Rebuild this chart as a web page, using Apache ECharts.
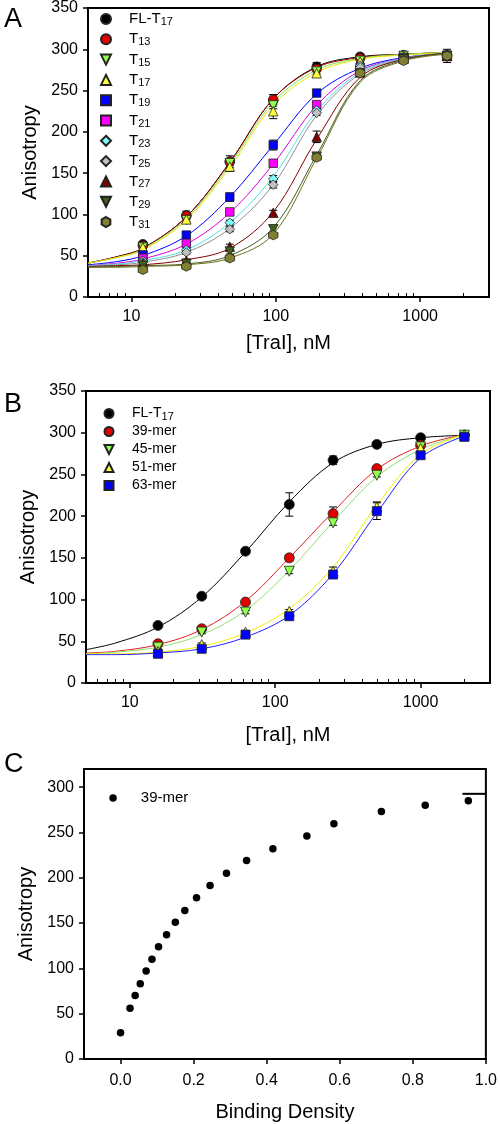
<!DOCTYPE html>
<html><head><meta charset="utf-8">
<script src="https://cdn.jsdelivr.net/npm/echarts@6/dist/echarts.min.js"></script>
<style>html,body{margin:0;padding:0;background:#fff}#c{width:500px;height:1124px}</style>
</head><body><div id="c"></div>
<script>
const FONT = '"Liberation Sans", Arial, Helvetica, sans-serif';

// ---------- Panel A data ----------
const concA = [12, 24, 48, 96, 192, 384, 768, 1536];
const fitXA = [5, 8, 12, 24, 48, 96, 192, 384, 768, 1536];
const namesA = ['FL-T17','T13','T15','T17','T19','T21','T23','T25','T27','T29','T31'];
const aFL  = [64, 99, 164, 238, 279, 291, 293, 293];
const aT13 = [62, 98, 164, 239, 276, 289, 292, 292];
const aT15 = [60, 93, 162, 232, 273, 286, 292, 292];
const aT17 = [60, 94, 158, 225, 271, 285, 291, 292];
const aT19 = [51, 75, 121, 184, 247, 275, 290, 292];
const aT21 = [47, 65, 103, 162, 233, 278, 290, 292];
const aT23 = [44, 57, 90, 143, 226, 280, 290, 292];
const aT25 = [42, 54, 82, 136, 223, 278, 290, 292];
const aT27 = [41, 44, 61, 102, 194, 272, 289, 292];
const aT29 = [38, 40, 55, 82, 170, 271, 288, 292];
const aT31 = [33, 37, 47, 75, 169, 271, 286, 292];
const eFL  = [3, 5, 7, 7, 5, 3, 2, 2];
const eT13 = [2, 2, 3, 6, 3, 2, 2, 2];
const eT15 = [2, 2, 3, 4, 3, 2, 2, 2];
const eT17 = [2, 3, 6, 9, 5, 3, 2, 2];
const eT19 = [2, 3, 5, 6, 3, 3, 2, 2];
const eT21 = [2, 2, 3, 3, 3, 3, 2, 2];
const eT23 = [2, 2, 3, 4, 3, 3, 2, 2];
const eT25 = [2, 2, 3, 4, 3, 3, 2, 2];
const eT27 = [2, 2, 3, 3, 7, 3, 2, 2];
const eT29 = [2, 2, 3, 4, 3, 3, 2, 2];
const eT31 = [3, 3, 3, 3, 3, 3, 3, 8];
const fFL  = [41, 49, 59, 97, 163, 240, 279, 291, 294, 296];
const fT13 = [41, 49, 59, 97, 163, 240, 278, 290, 294, 296];
const fT15 = [41, 48, 58, 95, 160, 236, 275, 289, 294, 296];
const fT17 = [41, 48, 57, 93, 157, 232, 272, 288, 293, 296];
const fT19 = [39, 43, 50, 74, 121, 184, 246, 277, 290, 295];
const fT21 = [38, 41, 46, 64, 102, 161, 232, 274, 289, 295];
const fT23 = [38, 40, 44, 57, 90, 146, 225, 272, 289, 295];
const fT25 = [37, 39, 42, 54, 83, 136, 220, 270, 288, 295];
const fT27 = [37, 38, 39, 45, 59, 103, 191, 266, 288, 295];
const fT29 = [36, 37, 38, 40, 50, 84, 172, 262, 287, 295];
const fT31 = [36, 36, 37, 39, 47, 76, 168, 260, 286, 294];

// ---------- Panel B data ----------
const concB = [15.625, 31.25, 62.5, 125, 250, 500, 1000, 2000];
const fitXB = [5, 8, 15.625, 31.25, 62.5, 125, 250, 500, 1000, 2000];
const namesB = ['FL-T17','39-mer','45-mer','51-mer','63-mer'];
const bFL = [69, 104, 158, 214, 267, 286, 294, 297];
const b39 = [47, 65, 97, 150, 203, 257, 285, 297];
const b45 = [43, 61, 85, 134, 192, 249, 283, 297];
const b51 = [38, 46, 61, 86, 134, 211, 281, 297];
const b63 = [35, 41, 58, 80, 130, 206, 273, 295];
const ebFL = [3, 2, 3, 14, 5, 3, 2, 2];
const eb39 = [2, 2, 3, 4, 8, 2, 2, 2];
const eb45 = [2, 2, 2, 3, 3, 2, 2, 2];
const eb51 = [2, 2, 2, 2, 5, 6, 3, 2];
const eb63 = [2, 2, 2, 2, 3, 10, 3, 2];
const fbFL = [40, 48, 67, 103, 157, 217, 264, 286, 294, 297];
const fb39 = [36, 38, 46, 64, 98, 150, 205, 256, 284, 298];
const fb45 = [35, 37, 43, 58, 87, 135, 193, 247, 280, 298];
const fb51 = [35, 35, 37, 44, 60, 89, 139, 213, 274, 298];
const fb63 = [34, 34, 36, 41, 55, 81, 131, 204, 270, 296];

// ---------- Panel C data ----------
const densC = [0.0, 0.026, 0.040, 0.054, 0.070, 0.086, 0.104, 0.126, 0.150, 0.176, 0.208, 0.245, 0.290, 0.345, 0.417, 0.510, 0.584, 0.714, 0.834, 0.952];
const anisoC = [29, 56, 70, 83, 97, 110, 124, 137, 151, 164, 178, 191.5, 205, 219, 232, 246, 259.5, 273, 280, 285];
const plateauX = [0.936, 1.0];
const plateauY = [292.6, 292.6];

// ---------- ticks ----------
const majorLog = [10, 100, 1000];
const minorLog = [6, 7, 8, 9, 20, 30, 40, 50, 60, 70, 80, 90, 200, 300, 400, 500, 600, 700, 800, 900, 2000];
const yTicksC = [0, 50, 100, 150, 200, 250, 300];
const xTicksC = [0, 0.2, 0.4, 0.6, 0.8, 1.0];

// ---------- styles ----------
const HEX = 'path://M0,-10L8.66,-5L8.66,5L0,10L-8.66,5L-8.66,-5Z';
const DOWN = 'path://M-10,-10L10,-10L0,10Z';
const UP = 'path://M0,-10L10,10L-10,10Z';
const styleA = [
  {c:'#000000', l:'#000000', s:'circle'},
  {c:'#e00000', l:'#a00000', s:'circle'},
  {c:'#90ff50', l:'#80e060', s:DOWN},
  {c:'#ffff40', l:'#e8e800', s:UP},
  {c:'#0000ff', l:'#0000ff', s:'rect'},
  {c:'#ff00ff', l:'#e000e0', s:'rect'},
  {c:'#80ffff', l:'#50e0e0', s:'diamond'},
  {c:'#c0c0c0', l:'#909090', s:'diamond'},
  {c:'#800000', l:'#800000', s:UP},
  {c:'#3f5f1a', l:'#3f5f1a', s:DOWN},
  {c:'#808030', l:'#707020', s:HEX}
];
const styleB = [
  {c:'#000000', l:'#000000', s:'circle'},
  {c:'#e00000', l:'#e02020', s:'circle'},
  {c:'#90ff50', l:'#90e070', s:DOWN},
  {c:'#ffff40', l:'#f0f000', s:UP},
  {c:'#0000ff', l:'#2020ff', s:'rect'}
];

const dataA = [aFL,aT13,aT15,aT17,aT19,aT21,aT23,aT25,aT27,aT29,aT31];
const errA = [eFL,eT13,eT15,eT17,eT19,eT21,eT23,eT25,eT27,eT29,eT31];
const fitA = [fFL,fT13,fT15,fT17,fT19,fT21,fT23,fT25,fT27,fT29,fT31];
const dataB = [bFL,b39,b45,b51,b63];
const errB = [ebFL,eb39,eb45,eb51,eb63];
const fitB = [fbFL,fb39,fb45,fb51,fb63];

const pair = (xs, ys) => xs.map((x, i) => [x, ys[i]]);

function errSeries(xi, yi, xs, ys, es) {
  const data = xs.map((x, i) => [x, ys[i] - es[i], ys[i] + es[i]]);
  return {
    type: 'custom', xAxisIndex: xi, yAxisIndex: yi, silent: true, z: 3,
    encode: {x: 0, y: [1, 2]}, data,
    renderItem(params, api) {
      const x = api.value(0);
      const lo = api.coord([x, api.value(1)]);
      const hi = api.coord([x, api.value(2)]);
      const w = 4, st = {stroke: '#000', lineWidth: 1};
      return {type: 'group', children: [
        {type: 'line', shape: {x1: lo[0], y1: lo[1], x2: hi[0], y2: hi[1]}, style: st},
        {type: 'line', shape: {x1: lo[0] - w, y1: lo[1], x2: lo[0] + w, y2: lo[1]}, style: st},
        {type: 'line', shape: {x1: hi[0] - w, y1: hi[1], x2: hi[0] + w, y2: hi[1]}, style: st}
      ]};
    }
  };
}

const series = [];
function addPanel(xi, yi, names, styles, xs, data, errs, fitXs, fits, size) {
  names.forEach((n, i) => {
    const st = styles[i];
    series.push({type: 'line', xAxisIndex: xi, yAxisIndex: yi, name: n + ' fit', data: pair(fitXs, fits[i]),
      smooth: 0.35, symbol: 'none', silent: true, z: 2,
      lineStyle: {color: st.l, width: 1}});
  });
  names.forEach((n, i) => series.push(errSeries(xi, yi, xs, data[i], errs[i])));
  names.forEach((n, i) => {
    const st = styles[i];
    series.push({type: 'scatter', xAxisIndex: xi, yAxisIndex: yi, name: n, data: pair(xs, data[i]),
      symbol: st.s, symbolSize: st.s === 'rect' ? size - 1 : size, z: 4,
      itemStyle: {color: st.c, borderColor: '#222', borderWidth: 0.8, opacity: 1}});
  });
}
addPanel(0, 0, namesA, styleA, concA, dataA, errA, fitXA, fitA, 9.5);
addPanel(2, 1, namesB, styleB, concB, dataB, errB, fitXB, fitB, 10);

series.push({type: 'scatter', xAxisIndex: 4, yAxisIndex: 2, name: '39-mer ', data: pair(densC, anisoC),
  symbol: 'circle', symbolSize: 7.5, itemStyle: {color: '#000', opacity: 1}, z: 4});
series.push({type: 'line', xAxisIndex: 4, yAxisIndex: 2, name: 'plateau', data: pair(plateauX, plateauY),
  symbol: 'none', lineStyle: {color: '#000', width: 2}, silent: true, z: 3});

const tickLabel = {fontSize: 16, color: '#000', fontFamily: FONT};
const nameStyle = {fontSize: 20, color: '#000', fontFamily: FONT};
const axLine = {show: true, onZero: false, lineStyle: {color: '#000', width: 2}};

function logAxes(gi, gap) {
  return [
    {type: 'log', gridIndex: gi, min: 5, max: 3000, position: 'bottom',
      axisLine: axLine, splitLine: {show: false},
      axisTick: {show: true, inside: false, length: 5, customValues: majorLog, lineStyle: {color: '#000', width: 1.5}},
      axisLabel: Object.assign({margin: 12, customValues: majorLog, formatter: v => String(Math.round(v))}, tickLabel),
      name: '[TraI], nM', nameLocation: 'middle', nameGap: gap, nameTextStyle: nameStyle},
    {type: 'log', gridIndex: gi, min: 5, max: 3000, position: 'bottom', offset: 0,
      axisLine: {show: false, onZero: false}, splitLine: {show: false}, axisLabel: {show: false},
      axisTick: {show: true, inside: true, length: 4, customValues: minorLog, lineStyle: {color: '#000', width: 1}}}
  ];
}
function yAxisAB(gi) {
  return {type: 'value', gridIndex: gi, min: 0, max: 350, interval: 50,
    axisLine: axLine, splitLine: {show: false},
    axisTick: {show: true, length: 5, lineStyle: {color: '#000', width: 1.5}},
    axisLabel: Object.assign({margin: 10}, tickLabel),
    name: 'Anisotropy', nameLocation: 'middle', nameGap: 48, nameTextStyle: nameStyle};
}

const richLegend = (fs, lh, pad) => ({
  m: {fontSize: fs, lineHeight: lh, verticalAlign: 'middle', fontFamily: FONT, color: '#000', padding: [0, 0, 0, pad]},
  s: {fontSize: 11, lineHeight: 8, verticalAlign: 'bottom', fontFamily: FONT, color: '#000'}
});
const legendFmt = n => {
  const t = n.trim();
  const m = t.match(/^(.*T)(\d+)$/);
  return m ? '{m|' + m[1] + '}{s|' + m[2] + '}' : '{m|' + t + '}';
};

const option = {
  animation: false,
  backgroundColor: '#fff',
  title: [
    {text: 'A', left: -1, top: 1, textStyle: {fontSize: 27, fontWeight: 'normal', color: '#000', fontFamily: FONT}},
    {text: 'B', left: -1, top: 386, textStyle: {fontSize: 27, fontWeight: 'normal', color: '#000', fontFamily: FONT}},
    {text: 'C', left: -1, top: 746, textStyle: {fontSize: 27, fontWeight: 'normal', color: '#000', fontFamily: FONT}}
  ],
  grid: [
    {left: 88, top: 7, width: 401, height: 290, show: true, borderColor: '#000', borderWidth: 2, containLabel: false},
    {left: 86, top: 391, width: 404, height: 292, show: true, borderColor: '#000', borderWidth: 2, containLabel: false},
    {left: 84, top: 769, width: 404, height: 290, show: true, borderColor: '#000', borderWidth: 2, containLabel: false}
  ],
  xAxis: [
    ...logAxes(0, 36),
    ...logAxes(1, 42),
    {type: 'value', gridIndex: 2, min: -0.1, max: 1.0,
      axisLine: axLine, splitLine: {show: false},
      axisTick: {show: true, length: 5, customValues: xTicksC, lineStyle: {color: '#000', width: 1.5}},
      axisLabel: Object.assign({margin: 14, customValues: xTicksC, formatter: v => v.toFixed(1)}, tickLabel),
      name: 'Binding Density', nameLocation: 'middle', nameGap: 43, nameTextStyle: nameStyle}
  ],
  yAxis: [
    yAxisAB(0), yAxisAB(1),
    {type: 'value', gridIndex: 2, min: 0, max: 320,
      axisLine: axLine, splitLine: {show: false},
      axisTick: {show: true, length: 5, customValues: yTicksC, lineStyle: {color: '#000', width: 1.5}},
      axisLabel: Object.assign({margin: 10, customValues: yTicksC}, tickLabel),
      name: 'Anisotropy', nameLocation: 'middle', nameGap: 48, nameTextStyle: nameStyle}
  ],
  legend: [
    {data: namesA, orient: 'vertical', left: 100, top: 10.5, itemWidth: 10, itemHeight: 10, itemGap: 3.3,
      formatter: legendFmt, textStyle: {fontSize: 15, lineHeight: 17, fontFamily: FONT, color: '#000', rich: richLegend(15, 17, 13)},
      selectedMode: false, padding: 0},
    {data: namesB, orient: 'vertical', left: 103.5, top: 405, itemWidth: 9, itemHeight: 9, itemGap: 1,
      formatter: legendFmt, textStyle: {fontSize: 14, lineHeight: 17, fontFamily: FONT, color: '#000', rich: richLegend(14, 17, 13.5)},
      selectedMode: false, padding: 0},
    {data: ['39-mer '], orient: 'vertical', left: 109.3, top: 789.5, itemWidth: 7.5, itemHeight: 7.5, itemGap: 2,
      formatter: legendFmt, textStyle: {fontSize: 15, lineHeight: 17, fontFamily: FONT, color: '#000', rich: richLegend(15, 17, 19)},
      selectedMode: false, padding: 0}
  ],
  series
};

const chart = echarts.init(document.getElementById('c'), null, {renderer: 'canvas'});
chart.setOption(option);
</script>
</body></html>
